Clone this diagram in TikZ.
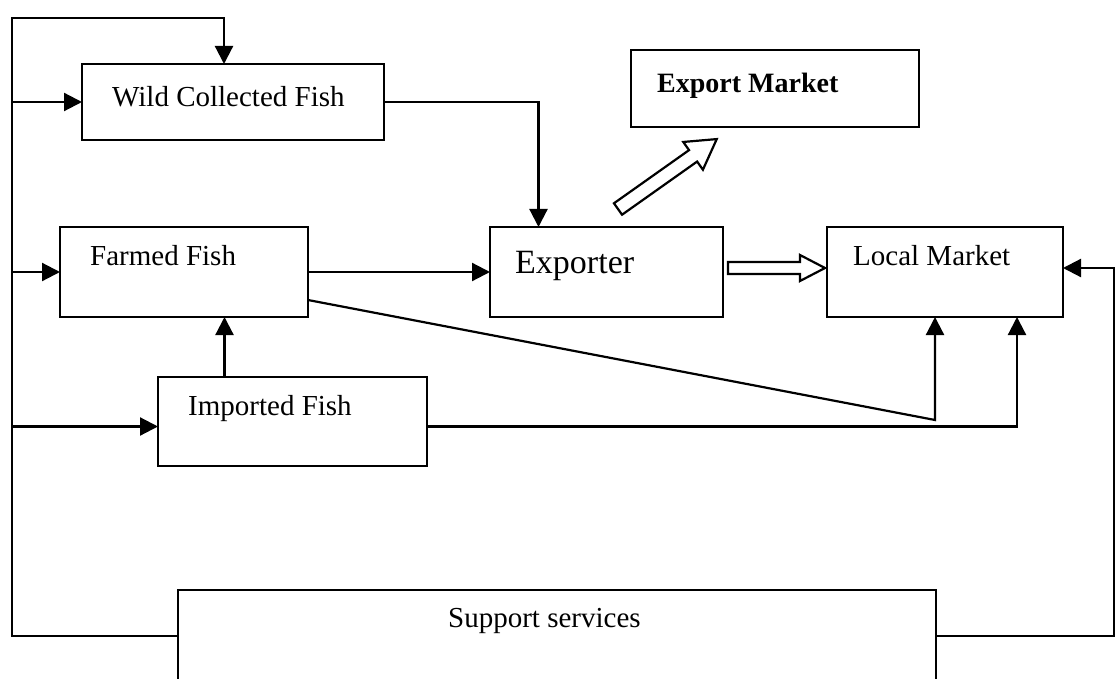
\documentclass[tikz,border=0pt]{standalone}
\usepackage{fontspec}
\setmainfont{Liberation Serif}
\usetikzlibrary{arrows.meta,calc}
\tikzset{
  box/.style={draw, line width=2.2pt, inner sep=0pt, outer sep=0pt, anchor=north west},
  lbl/.style={inner sep=0pt, anchor=base west, font=\fontsize{29}{32}\selectfont},
  conn/.style={line width=2.2pt},
  arr/.style={conn, -{Triangle[length=18pt,width=18pt]}},
  hollow/.style={draw, line width=2.2pt, fill=white, line join=miter}
}
\begin{document}
\begin{tikzpicture}[x=1pt,y=-1pt]
\useasboundingbox (0,0) rectangle (1116,679);
\fill[white] (0,0) rectangle (1116,679);
\clip (0,0) rectangle (1116,679);

% boxes
\node[box, minimum width=302pt, minimum height=76pt] (wild) at (82,64) {};
\node[box, minimum width=288pt, minimum height=77pt] (expm) at (631,50) {};
\node[box, minimum width=248pt, minimum height=90pt] (farmed) at (60,227) {};
\node[box, minimum width=233pt, minimum height=90pt] (exporter) at (490,227) {};
\node[box, minimum width=236pt, minimum height=90pt] (local) at (827,227) {};
\node[box, minimum width=269pt, minimum height=89pt] (imported) at (158,377) {};
\node[box, minimum width=758pt, minimum height=92pt] (sup) at (178,590) {};

% labels
\node[lbl] (twild) at (112,107) {Wild Collected Fish};
\node[lbl, font=\fontsize{28}{32}\selectfont\bfseries] (texpm) at (657,93) {Export Market};
\node[lbl] (tfarmed) at (90,265) {Farmed Fish};
\node[lbl, font=\fontsize{34}{38}\selectfont] (texporter) at (515,273) {Exporter};
\node[lbl] (tlocal) at (853,265) {Local Market};
\node[lbl] (timported) at (188,415) {Imported Fish};
\node[lbl] (tsup) at (448,627) {Support services};

% coordinates
\coordinate (trunk) at (12,18);
\coordinate (rtrunk) at (1114,268);
\coordinate (bend) at (935,420);
\coordinate (impin) at ([yshift=-5pt]imported.west);
\coordinate (impout) at ([yshift=-5pt]imported.east);
\coordinate (farmout) at ([yshift=-28pt]farmed.east);

% left trunk from support services
\draw[arr] (sup.west) -| (trunk) -| ([xshift=-9pt]wild.north);
\draw[arr] (trunk |- wild.west) -- (wild.west);
\draw[arr] (trunk |- farmed.west) -- (farmed.west);
\draw[arr] (trunk |- impin) -- (impin);

% right trunk
\draw[arr] (sup.east) -| (rtrunk) -- (rtrunk -| local.east);

% flows
\draw[arr] (wild.east) -| ([xshift=-68pt]exporter.north);
\draw[arr] (farmed.east) -- (exporter.west);
\draw[arr] ([xshift=-68pt]imported.north) -- ([xshift=-68pt]imported.north |- farmed.south);
\draw[arr] (impout) -| ([xshift=72pt]local.south);
\draw[arr] (farmout) -- (bend) -- (bend |- local.south);

% hollow arrows
\begin{scope}[shift={($(exporter.east)+(5,-4)$)}]
  \draw[hollow] (0,-6) -- (72,-6) -- (72,-13) -- (97,0) -- (72,13) -- (72,6) -- (0,6) -- cycle;
\end{scope}
\begin{scope}[shift={(618,209)}, rotate=35.3]
  \draw[hollow] (0,-7) -- (92,-7) -- (92,-17) -- (121,0) -- (92,17) -- (92,7) -- (0,7) -- cycle;
\end{scope}
\end{tikzpicture}
\end{document}
